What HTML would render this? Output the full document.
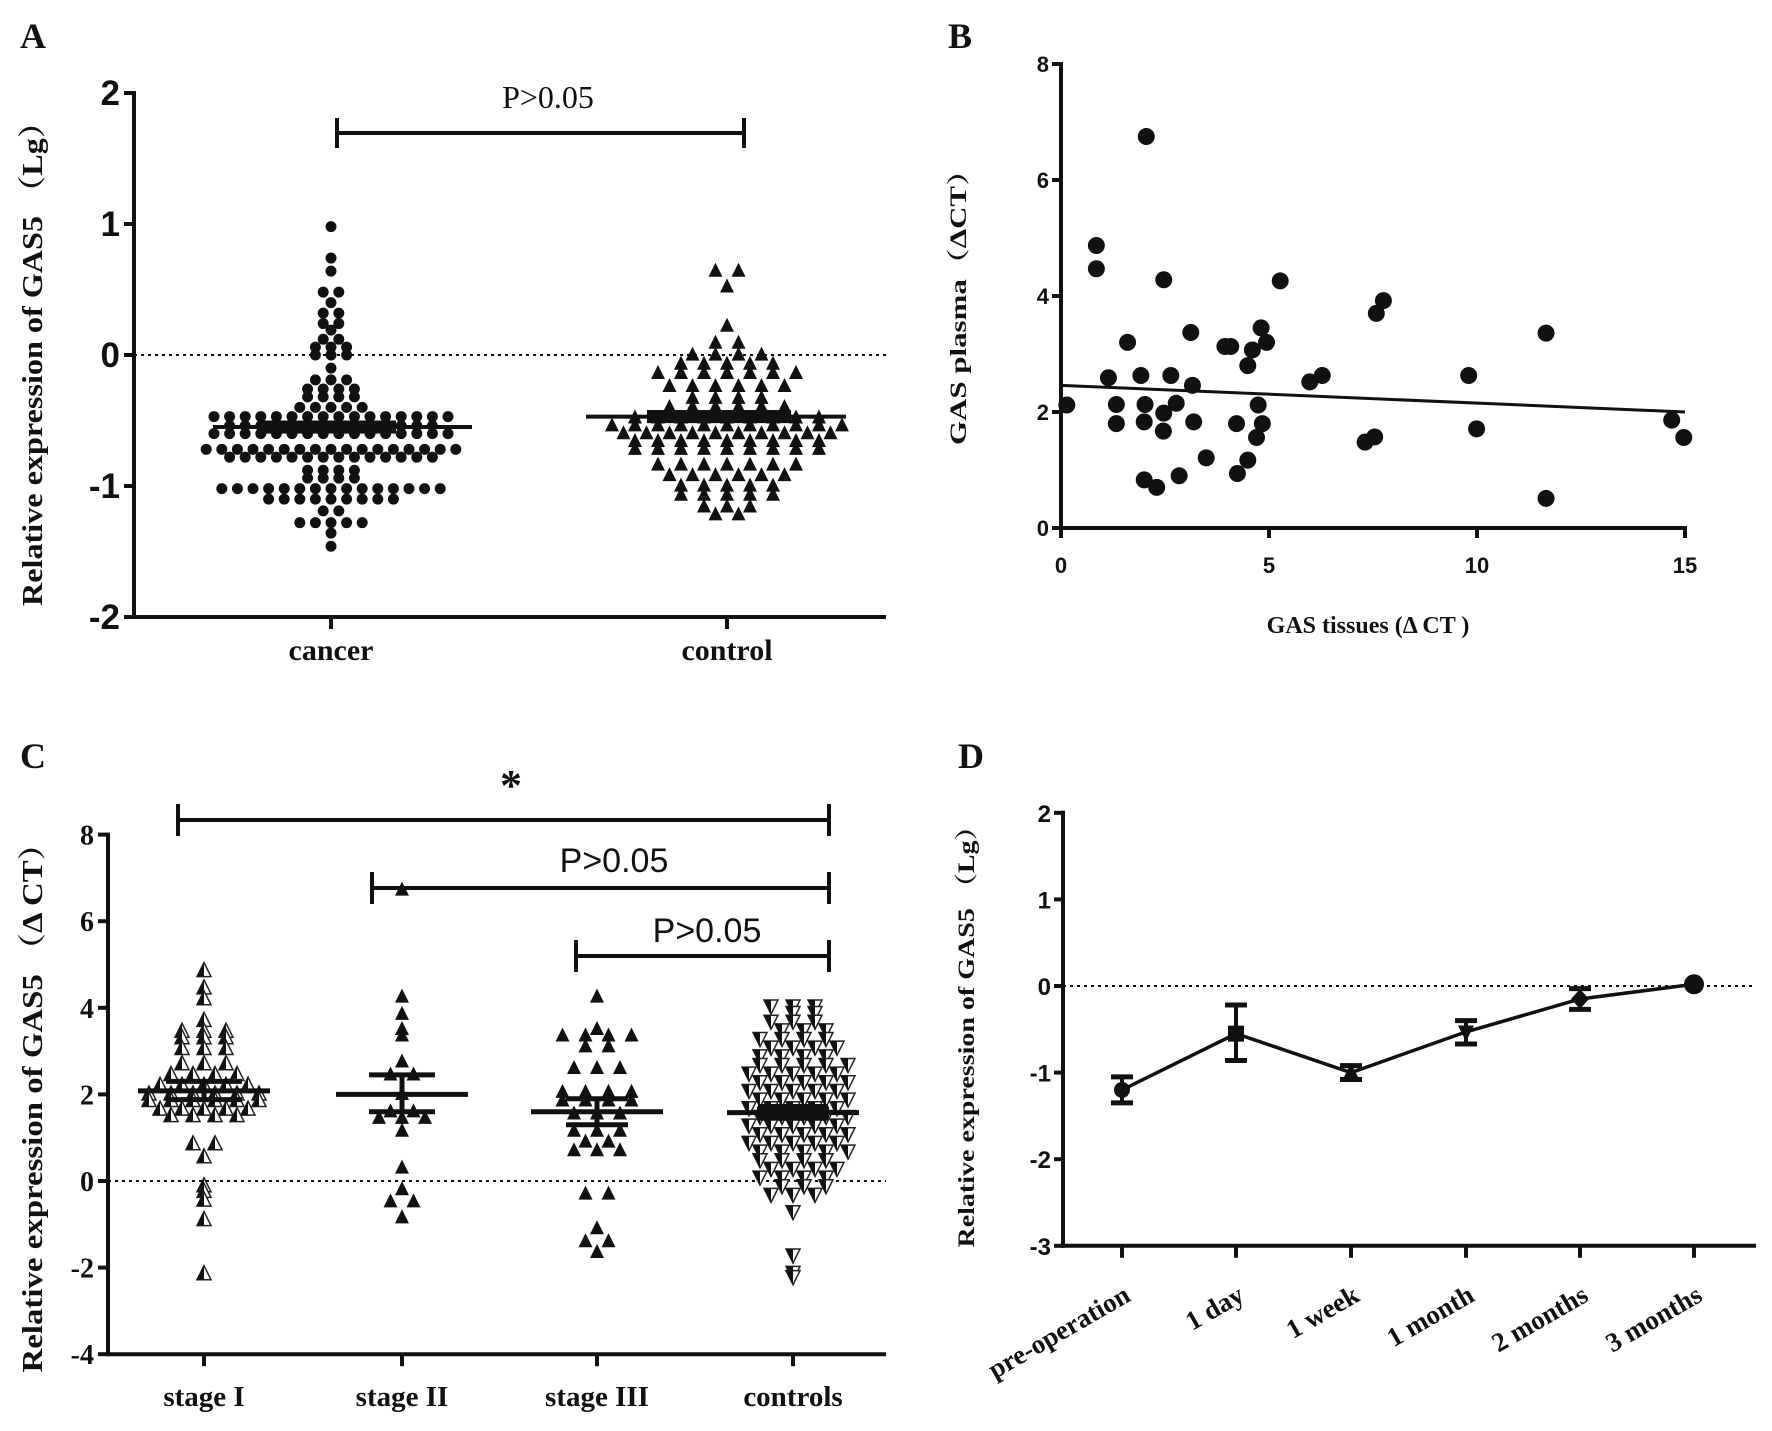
<!DOCTYPE html>
<html><head><meta charset="utf-8"><style>
html,body{margin:0;padding:0;background:#fff;}
svg{display:block;}
.sans{font-family:"Liberation Sans",Arial,sans-serif;font-weight:bold;}
.serif{font-family:"Liberation Serif","Noto Serif CJK SC",serif;font-weight:bold;}
</style></head><body>
<svg id="fig" width="1772" height="1431" viewBox="0 0 1772 1431" xmlns="http://www.w3.org/2000/svg">
<g id="panelA"></g>
<g id="panelB"></g>
<g id="panelC"></g>
<g id="panelD"></g>
</svg>
<script>
// ---------- Panel A data ----------
const aCategories = ["cancer", "control"];
const aTicks = [2, 1, 0, -1, -2];
const aCancerRowValues = [0.98,0.74,0.64,0.48,0.40,0.32,0.24,0.19,0.12,0.06,0.0,-0.1,-0.19,-0.26,-0.32,-0.40,-0.47,-0.54,-0.60,-0.72,-0.78,-0.88,-0.94,-1.02,-1.10,-1.19,-1.28,-1.36,-1.46];
const aCancerRowCounts = [1,1,1,2,1,2,2,1,2,3,3,1,3,4,4,5,16,14,16,17,14,4,4,15,9,2,5,1,1];
const aControlRowValues = [0.64,0.52,0.22,0.09,0.0,-0.07,-0.14,-0.24,-0.33,-0.40,-0.48,-0.54,-0.60,-0.66,-0.72,-0.84,-0.92,-1.0,-1.07,-1.16,-1.22];
const aControlRowCounts = [2,1,1,2,4,5,7,6,4,6,9,11,10,9,9,7,6,5,5,3,2];
const aMeans = [-0.55, -0.47];
const aSem = [0.05, 0.05];

// ---------- Panel B data ----------
const bXTicks = [0, 5, 10, 15];
const bYTicks = [0, 2, 4, 6, 8];
const bX = [0.14,0.85,0.85,1.14,1.33,1.33,1.6,1.92,2.05,2.02,2.0,2.0,2.3,2.47,2.47,2.46,2.64,2.77,2.84,3.12,3.16,3.19,3.49,3.94,4.08,4.22,4.24,4.49,4.49,4.6,4.81,4.94,4.74,4.84,4.7,5.27,5.98,6.28,7.31,7.54,7.58,7.75,9.8,9.99,11.66,11.66,14.68,14.97];
const bY = [2.12,4.87,4.47,2.59,2.13,1.80,3.2,2.63,6.75,2.13,1.83,0.83,0.7,4.28,1.98,1.67,2.63,2.15,0.9,3.37,2.46,1.83,1.21,3.13,3.13,1.8,0.94,1.17,2.8,3.07,3.45,3.2,2.12,1.8,1.56,4.26,2.52,2.63,1.48,1.57,3.7,3.92,2.63,1.71,3.36,0.51,1.86,1.56];
const bFit = [2.46, 2.0];

// ---------- Panel C data ----------
const cCategories = ["stage I", "stage II", "stage III", "controls"];
const cTicks = [8, 6, 4, 2, 0, -2, -4];
const cS1RowValues = [4.85,4.45,4.2,3.7,3.45,3.3,3.05,2.7,2.45,2.2,2.0,1.85,1.65,1.5,0.85,0.55,-0.12,-0.25,-0.45,-0.9,-2.15];
const cS1RowCounts = [1,1,1,1,3,3,3,3,4,5,6,6,5,4,2,1,1,1,1,1,1];
const cS2RowValues = [6.72,4.25,3.85,3.5,3.35,2.75,2.45,2.0,1.6,1.45,1.15,0.3,-0.2,-0.48,-0.85];
const cS2RowCounts = [1,1,1,1,1,1,2,1,2,3,1,1,1,2,1];
const cS3RowValues = [4.25,3.5,3.35,3.1,2.6,2.05,1.85,1.55,1.15,0.9,0.7,-0.3,-1.1,-1.4,-1.65];
const cS3RowCounts = [1,1,4,2,3,4,4,3,3,2,3,2,1,2,1];
const cCtlRowValues = [4.05,3.9,3.7,3.5,3.3,3.1,2.9,2.7,2.5,2.3,2.1,1.9,1.7,1.5,1.3,1.1,0.9,0.7,0.5,0.3,0.1,-0.1,-0.3,-0.7,-1.7,-2.1,-2.2];
const cCtlRowCounts = [3,2,3,3,4,4,4,5,5,5,5,5,5,5,5,5,5,5,4,4,4,3,3,1,1,1,1];
const cMeans = [2.08, 2.0, 1.6, 1.58];
const cSemHi = [2.3, 2.45, 1.9, 1.72];
const cSemLo = [1.88, 1.6, 1.3, 1.45];

// ---------- Panel D data ----------
const dCategories = ["pre-operation", "1 day", "1 week", "1 month", "2 months", "3 months"];
const dTicks = [2, 1, 0, -1, -2, -3];
const dValues = [-1.2, -0.55, -1.0, -0.53, -0.15, 0.02];
const dErrHi = [-1.05, -0.22, -0.92, -0.4, -0.03, 0.02];
const dErrLo = [-1.35, -0.86, -1.08, -0.67, -0.27, 0.02];

const NS = "http://www.w3.org/2000/svg";
function mk(parent, tag, attrs, text) {
  const e = document.createElementNS(NS, tag);
  for (const k in attrs) e.setAttribute(k, attrs[k]);
  if (text !== undefined) e.textContent = text;
  parent.appendChild(e);
  return e;
}
function line(p, x1, y1, x2, y2, w, name, dash) {
  const e = mk(p, "line", {x1: x1, y1: y1, x2: x2, y2: y2, stroke: "#111", "stroke-width": w});
  if (dash) e.setAttribute("stroke-dasharray", dash);
  
  
  return e;
}
function label(p, x, y, txt, cls, size, anchor, name, extra) {
  const e = mk(p, "text", {x: x, y: y, "class": cls, "font-size": size, "text-anchor": anchor || "middle", fill: "#111"}, txt);
  if (extra) for (const k in extra) e.setAttribute(k, extra[k]);
  
  
  return e;
}
function triPts(cx, cy, s, down) {
  const h = s;
  if (!down) return `${cx},${cy - h * 0.6} ${cx - s / 2},${cy + h * 0.4} ${cx + s / 2},${cy + h * 0.4}`;
  return `${cx},${cy + h * 0.6} ${cx - s / 2},${cy - h * 0.4} ${cx + s / 2},${cy - h * 0.4}`;
}
function swarm(rowValues, rowCounts, cx, spacing, yScale, draw, stagger) {
  rowValues.forEach((v, r) => {
    const n = rowCounts[r];
    const shift = stagger && (r % 2 === 1) && n > 1 ? spacing / 2 : 0;
    for (let i = 0; i < n; i++) {
      const x = cx + shift + (i - (n - 1) / 2) * spacing;
      draw(x, yScale(v));
    }
  });
}
function errBar(p, cx, yHi, yLo, capW, w, name) {
  line(p, cx, yHi, cx, yLo, w, name + "-error-bar");
  line(p, cx - capW / 2, yHi, cx + capW / 2, yHi, w, name + "-error-cap-upper");
  line(p, cx - capW / 2, yLo, cx + capW / 2, yLo, w, name + "-error-cap-lower");
}
function bracket(p, x1, x2, y, capH, name) {
  line(p, x1, y, x2, y, 4, name);
  line(p, x1, y - capH, x1, y + capH, 4, name + "-cap-left");
  line(p, x2, y - capH, x2, y + capH, 4, name + "-cap-right");
}

// ================= Panel A =================
(function () {
  const g = document.getElementById("panelA");
  const ax = 134, y0 = 355, unit = 131, xEnd = 886;
  const yS = v => y0 - v * unit;
  const xCat = [331, 727];
  label(g, 20, 48, "A", "serif", 36, "start", "panel-label-a");
  line(g, ax, yS(2) - 2, ax, yS(-2) + 2, 4, "y-axis-a");
  line(g, ax, yS(-2), xEnd, yS(-2), 4, "x-axis-a");
  aTicks.forEach(t => {
    line(g, ax - 10, yS(t), ax, yS(t), 4, "y-tick-a");
    label(g, ax - 14, yS(t) + 12, String(t), "sans", 35, "end", "y-tick-label-a");
  });
  aCategories.forEach((c, i) => {
    line(g, xCat[i], yS(-2), xCat[i], yS(-2) + 12, 4, "x-tick-a");
    label(g, xCat[i], 660, c, "serif", 30, "middle", "x-tick-label-a");
  });
  label(g, 0, 0, "Relative expression of GAS5 （Lg）", "serif", 28, "middle", "y-axis-title-a",
    {transform: "translate(42,356) rotate(-90)", textLength: 500, lengthAdjust: "spacingAndGlyphs"});
  line(g, ax, y0, xEnd, y0, 2, "zero-reference-line-a", "3,4");
  swarm(aCancerRowValues, aCancerRowCounts, xCat[0], 15.6, yS, (x, y) => {
    const c = mk(g, "circle", {cx: x, cy: y, r: 5.5, fill: "#111"});
    
    
  });
  swarm(aControlRowValues, aControlRowCounts, xCat[1], 23, yS, (x, y) => {
    const t = mk(g, "polygon", {points: triPts(x, y, 14, false), fill: "#111"});
    
    
  });
  const thick = [[263, 396], [647, 791]];
  const lineX = [[213, 472], [586, 846]];
  aMeans.forEach((m, i) => {
    line(g, lineX[i][0], yS(m), lineX[i][1], yS(m), 4, "mean-line-a");
    const r = mk(g, "rect", {x: thick[i][0], y: yS(m + aSem[i]), width: thick[i][1] - thick[i][0], height: yS(m - aSem[i]) - yS(m + aSem[i]), fill: "#111"});
    
    
  });
  bracket(g, 337, 744, 133, 15, "significance-bracket-a");
  label(g, 548, 108, "P>0.05", "serif", 32, "middle", "p-value-label-a", {style: "font-weight:normal"});
})();

// ================= Panel B =================
(function () {
  const g = document.getElementById("panelB");
  const ax = 1061, y0 = 528, yU = 58, xU = 41.6;
  const xS = v => ax + v * xU, yS = v => y0 - v * yU;
  label(g, 948, 48, "B", "serif", 36, "start", "panel-label-b");
  line(g, ax, yS(8) - 2, ax, y0 + 2, 4, "y-axis-b");
  line(g, ax, y0, xS(15) + 2, y0, 4, "x-axis-b");
  bYTicks.forEach(t => {
    line(g, ax - 9, yS(t), ax, yS(t), 4, "y-tick-b");
    label(g, ax - 12, yS(t) + 8, String(t), "sans", 22, "end", "y-tick-label-b");
  });
  bXTicks.forEach(t => {
    line(g, xS(t), y0, xS(t), y0 + 10, 4, "x-tick-b");
    label(g, xS(t), 573, String(t), "sans", 22, "middle", "x-tick-label-b");
  });
  label(g, 1368, 633, "GAS   tissues (Δ CT )", "serif", 24, "middle", "x-axis-title-b", {"xml:space": "preserve"});
  label(g, 0, 0, "GAS  plasma（ΔCT）", "serif", 23, "middle", "y-axis-title-b",
    {transform: "translate(966,300) rotate(-90)", textLength: 290, lengthAdjust: "spacingAndGlyphs"});
  bX.forEach((x, i) => {
    const c = mk(g, "circle", {cx: xS(x), cy: yS(bY[i]), r: 8.5, fill: "#111"});
    
    
  });
  line(g, xS(0), yS(bFit[0]), xS(15), yS(bFit[1]), 3, "regression-line");
})();

// ================= Panel C =================
(function () {
  const g = document.getElementById("panelC");
  const ax = 108, y0 = 1181, unit = 43.3;
  const yS = v => y0 - v * unit;
  const xCat = [204, 402, 597, 793], xEnd = 886;
  label(g, 20, 768, "C", "serif", 36, "start", "panel-label-c");
  line(g, ax, yS(8) - 2, ax, yS(-4) + 2, 4, "y-axis-c");
  line(g, ax, yS(-4), xEnd, yS(-4), 4, "x-axis-c");
  cTicks.forEach(t => {
    line(g, ax - 10, yS(t), ax, yS(t), 4, "y-tick-c");
    label(g, ax - 14, yS(t) + 10, String(t), "serif", 28, "end", "y-tick-label-c");
  });
  cCategories.forEach((c, i) => {
    line(g, xCat[i], yS(-4), xCat[i], yS(-4) + 12, 4, "x-tick-c");
    label(g, xCat[i], 1406, c, "serif", 29, "middle", "x-tick-label-c");
  });
  label(g, 0, 0, "Relative expression of GAS5 （Δ CT）", "serif", 28, "middle", "y-axis-title-c",
    {transform: "translate(42,1100) rotate(-90)", textLength: 545, lengthAdjust: "spacingAndGlyphs"});
  line(g, ax, y0, xEnd, y0, 2, "zero-reference-line-c", "3,4");
  const S = 14;
  swarm(cS1RowValues, cS1RowCounts, xCat[0], 22, yS, (x, y) => {
    const t = mk(g, "polygon", {points: triPts(x, y, S, false), fill: "#fff", stroke: "#222", "stroke-width": 1.5});
    
    
    const h = mk(g, "polygon", {points: `${x},${y - S * 0.6} ${x - S / 2},${y + S * 0.4} ${x},${y + S * 0.4}`, fill: "#111"});
    
    
  });
  swarm(cS2RowValues, cS2RowCounts, xCat[1], 23, yS, (x, y) => {
    const t = mk(g, "polygon", {points: triPts(x, y, S, false), fill: "#111"});
    
    
  });
  swarm(cS3RowValues, cS3RowCounts, xCat[2], 23, yS, (x, y) => {
    const t = mk(g, "polygon", {points: triPts(x, y, S, false), fill: "#111"});
    
    
  });
  swarm(cCtlRowValues, cCtlRowCounts, xCat[3], 22, yS, (x, y) => {
    const t = mk(g, "polygon", {points: triPts(x, y, 14, true), fill: "#fff", stroke: "#222", "stroke-width": 1.5});
    
    
    const h = mk(g, "polygon", {points: `${x},${y + 14 * 0.6} ${x - 7},${y - 14 * 0.4} ${x},${y - 14 * 0.4}`, fill: "#111"});
    
    
  }, true);
  const capW = [76, 66, 62, 70];
  cMeans.forEach((m, i) => {
    errBar(g, xCat[i], yS(cSemHi[i]), yS(cSemLo[i]), capW[i], 5, "group-" + i);
    line(g, xCat[i] - 66, yS(m), xCat[i] + 66, yS(m), 5, "mean-line-c");
  });
  const r = mk(g, "rect", {x: xCat[3] - 36, y: yS(cSemHi[3]), width: 72, height: yS(cSemLo[3]) - yS(cSemHi[3]), fill: "#111"});
  
  
  bracket(g, 178, 829, 820, 16, "significance-bracket-stage-i");
  label(g, 511, 800, "*", "serif", 44, "middle", "significance-star");
  bracket(g, 372, 829, 888, 16, "significance-bracket-stage-ii");
  label(g, 614, 872, "P>0.05", "sans", 34, "middle", "p-value-label-stage-ii", {style: "font-weight:normal"});
  bracket(g, 576, 829, 956, 16, "significance-bracket-stage-iii");
  label(g, 707, 942, "P>0.05", "sans", 34, "middle", "p-value-label-stage-iii", {style: "font-weight:normal"});
})();

// ================= Panel D =================
(function () {
  const g = document.getElementById("panelD");
  const ax = 1063, y0 = 986, unit = 86.6, xEnd = 1756;
  const yS = v => y0 - v * unit;
  const xCat = [1122, 1236, 1351, 1466, 1580, 1694];
  label(g, 958, 768, "D", "serif", 36, "start", "panel-label-d");
  line(g, ax, yS(2) - 2, ax, yS(-3) + 2, 4, "y-axis-d");
  line(g, ax, yS(-3), xEnd, yS(-3), 4, "x-axis-d");
  dTicks.forEach(t => {
    line(g, ax - 9, yS(t), ax, yS(t), 4, "y-tick-d");
    label(g, ax - 12, yS(t) + 9, String(t), "sans", 24, "end", "y-tick-label-d");
  });
  dCategories.forEach((c, i) => {
    line(g, xCat[i], yS(-3), xCat[i], yS(-3) + 12, 4, "x-tick-d");
    label(g, 0, 0, c, "serif", 27, "end", "x-tick-label-d", {transform: `translate(${xCat[i] + 10},${1300}) rotate(-30)`});
  });
  label(g, 0, 0, "Relative expression of GAS5 （Lg）", "serif", 23, "middle", "y-axis-title-d",
    {transform: "translate(974,1030) rotate(-90)", textLength: 435, lengthAdjust: "spacingAndGlyphs"});
  line(g, ax, y0, xEnd, y0, 2, "zero-reference-line-d", "3,4");
  const pts = dValues.map((v, i) => `${xCat[i]},${yS(v)}`).join(" ");
  const pl = mk(g, "polyline", {points: pts, fill: "none", stroke: "#111", "stroke-width": 3.5});
  
  
  dValues.forEach((v, i) => {
    if (dErrHi[i] !== dErrLo[i]) {
      line(g, xCat[i], yS(dErrHi[i]), xCat[i], yS(dErrLo[i]), 4, "error-bar-d");
      line(g, xCat[i] - 11, yS(dErrHi[i]), xCat[i] + 11, yS(dErrHi[i]), 5, "error-cap-d");
      line(g, xCat[i] - 11, yS(dErrLo[i]), xCat[i] + 11, yS(dErrLo[i]), 5, "error-cap-d");
    }
    const x = xCat[i], y = yS(v);
    let m;
    if (i === 0 || i === 5) m = mk(g, "circle", {cx: x, cy: y, r: i === 5 ? 10 : 8, fill: "#111"});
    else if (i === 1) m = mk(g, "rect", {x: x - 8, y: y - 8, width: 16, height: 16, fill: "#111"});
    else if (i === 2) m = mk(g, "polygon", {points: triPts(x, y, 16, false), fill: "#111"});
    else if (i === 3) m = mk(g, "polygon", {points: triPts(x, y, 16, true), fill: "#111"});
    else m = mk(g, "polygon", {points: `${x},${y - 10} ${x + 9},${y} ${x},${y + 10} ${x - 9},${y}`, fill: "#111"});
    
    
  });
})();
</script>
</body></html>
